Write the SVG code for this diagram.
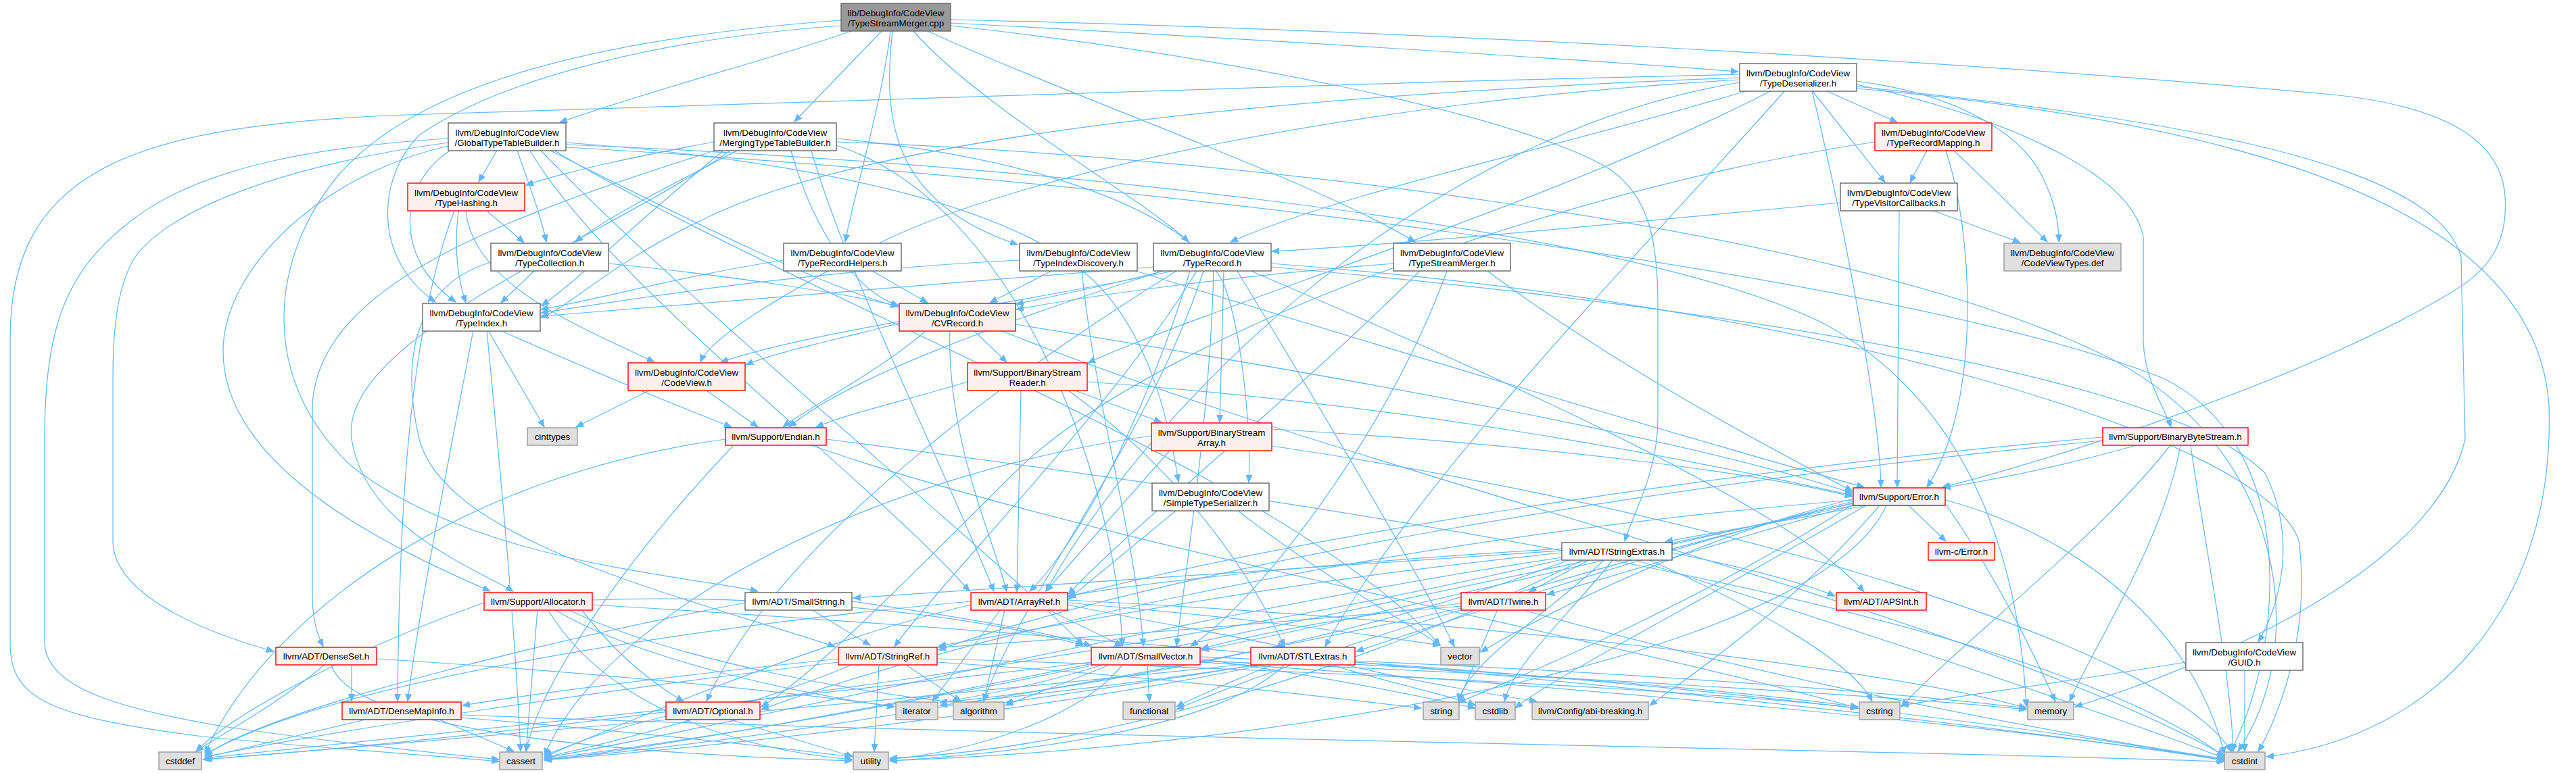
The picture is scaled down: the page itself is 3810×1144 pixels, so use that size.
<svg xmlns="http://www.w3.org/2000/svg" width="3810" height="1144" viewBox="0 0 3810 1144">
<style>
.e{fill:none;stroke:#63b8ff;stroke-width:1.25;marker-end:url(#a)}
.w{fill:#ffffff;stroke:#666666;stroke-width:1.4}
.r{fill:#fff0f0;stroke:#ff0000;stroke-width:1.4}
.g{fill:#e0e0e0;stroke:#999999;stroke-width:1.4}
.k{fill:#999999;stroke:#666666;stroke-width:1.4}
text{font-family:"Liberation Sans",Arial,Helvetica,sans-serif;font-size:13.33px;fill:#000000;text-anchor:middle}
</style>
<defs>
<marker id="a" viewBox="0 0 12 10" refX="11" refY="5" markerWidth="12" markerHeight="10" markerUnits="userSpaceOnUse" orient="auto"><path d="M0,0.5 L11,5 L0,9.5 z" fill="#63b8ff" stroke="#63b8ff"/></marker>
</defs>
<rect x="0" y="0" width="3810" height="1144" fill="#ffffff"/>
<g id="edges">
<path class="e" d="M1259,46 C1150,85 990,125 828,181"/>
<path class="e" d="M1304,46 L1175,180"/>
<path class="e" d="M1317,46 C1305,150 1265,280 1250,358"/>
<path class="e" d="M1320,46 C1305,180 1320,300 1505,362"/>
<path class="e" d="M1351,46 C1450,160 1700,300 1758,358"/>
<path class="e" d="M1372,46 C1600,150 1950,270 2093,358"/>
<path class="e" d="M1406,34 C1800,55 2300,85 2571,106"/>
<path class="e" d="M1406,38 C1800,80 2250,170 2380,250 C2440,290 2452,360 2452,450 L2452,620 C2452,700 2415,760 2403,801"/>
<path class="e" d="M1406,29 C2100,45 2900,90 3450,140 C3640,160 3700,220 3705,290 C3710,360 3680,400 3630,430 C3400,570 3000,690 2873,721"/>
<path class="e" d="M1244,38 C1000,55 750,110 620,200 C560,260 548,380 644,447"/>
<path class="e" d="M1244,30 C900,55 620,120 500,260 C400,380 380,560 520,690 C700,830 1000,850 1121,875"/>
<path class="e" d="M735,223 L708,269"/>
<path class="e" d="M765,223 C785,280 800,320 808,358"/>
<path class="e" d="M667,222 C590,270 580,380 674,447"/>
<path class="e" d="M663,205 C500,215 300,240 190,330 C100,400 66,480 66,650 L66,950 C66,1010 150,1045 330,1075 C500,1100 650,1115 738,1124"/>
<path class="e" d="M663,211 C450,240 260,300 200,380 C175,420 167,480 167,560 L167,800 C167,880 300,935 405,964"/>
<path class="e" d="M663,216 C470,260 330,400 330,520 C330,700 600,820 725,875"/>
<path class="e" d="M814,223 C950,290 1200,420 1328,454"/>
<path class="e" d="M837,211 C1100,230 1450,280 1600,400 C1700,480 1730,630 1743,713"/>
<path class="e" d="M784,223 C900,420 1300,720 1434,875"/>
<path class="e" d="M800,223 C1050,480 1450,800 1602,955"/>
<path class="e" d="M837,214 C1500,240 2400,330 2700,480 C2950,620 2990,900 2997,1046"/>
<path class="e" d="M837,218 C1600,260 2800,400 3200,560 C3400,660 3380,950 3300,1112"/>
<path class="e" d="M820,223 C1200,450 1900,700 2130,955"/>
<path class="e" d="M1056,210 C950,230 850,250 778,274"/>
<path class="e" d="M1090,223 C1000,270 900,320 851,358"/>
<path class="e" d="M1070,223 C950,320 850,420 801,452"/>
<path class="e" d="M1170,223 C1200,330 1260,430 1329,452"/>
<path class="e" d="M1237,205 C1500,230 1750,300 1810,420 C1840,500 1850,650 1847,714"/>
<path class="e" d="M1200,223 C1250,400 1400,700 1470,875"/>
<path class="e" d="M1237,215 C1500,300 1650,700 1660,956"/>
<path class="e" d="M1080,223 C900,350 500,500 520,650 C540,780 700,840 759,875"/>
<path class="e" d="M1237,210 C1800,230 2700,330 3100,520 C3380,650 3420,950 3310,1112"/>
<path class="e" d="M1060,222 C750,320 470,420 462,600 L462,880 C462,920 470,940 478,957"/>
<path class="e" d="M2700,134 L2806,181"/>
<path class="e" d="M2680,134 L2788,270"/>
<path class="e" d="M2746,120 C2900,140 2990,200 3020,260 C3040,300 3045,330 3045,358"/>
<path class="e" d="M2585,134 C2300,220 2000,280 1820,358"/>
<path class="e" d="M2573,115 C1900,140 1300,200 1050,320 C900,390 850,450 800,470"/>
<path class="e" d="M2573,118 C2000,150 1500,260 1300,360 C1150,440 1050,500 1036,536"/>
<path class="e" d="M2573,122 C2100,200 1700,600 1547,875"/>
<path class="e" d="M2640,134 C2450,350 2100,700 1960,957"/>
<path class="e" d="M2620,134 C2300,300 1800,450 1609,537"/>
<path class="e" d="M2680,134 C2720,300 2780,600 2782,721"/>
<path class="e" d="M2746,125 C2950,170 3150,250 3170,350 L3170,500 C3170,560 3200,600 3211,632"/>
<path class="e" d="M2746,128 C3150,170 3600,230 3640,380 L3646,650 C3600,850 3250,990 3069,1046"/>
<path class="e" d="M2746,131 C3300,180 3750,300 3770,600 C3780,900 3600,1090 3352,1120"/>
<path class="e" d="M2573,110 C1900,125 1200,150 600,170 C200,185 15,250 15,500 L15,950 C15,1030 60,1060 300,1090 C500,1110 650,1118 738,1127"/>
<path class="e" d="M2850,223 L2825,270"/>
<path class="e" d="M2890,223 C2950,280 3000,330 3028,358"/>
<path class="e" d="M2878,223 C2920,350 2930,600 2850,721"/>
<path class="e" d="M2773,210 C2300,280 1700,500 1500,700 C1300,900 1200,1000 1126,1046"/>
<path class="e" d="M2722,300 C2400,330 2100,360 1881,372"/>
<path class="e" d="M2809,312 L2806,721"/>
<path class="e" d="M2860,312 L2988,359"/>
<path class="e" d="M720,312 L775,359"/>
<path class="e" d="M678,312 C670,380 680,420 689,448"/>
<path class="e" d="M672,312 C600,500 590,800 588,1038"/>
<path class="e" d="M689,312 C700,420 850,480 968,536"/>
<path class="e" d="M790,401 L741,448"/>
<path class="e" d="M900,390 C1100,410 1250,435 1329,453"/>
<path class="e" d="M726,388 C620,420 590,520 620,650 C660,800 1000,880 1235,957"/>
<path class="e" d="M700,489 C660,700 620,900 603,1038"/>
<path class="e" d="M740,489 C900,560 1000,600 1082,632"/>
<path class="e" d="M720,489 C740,700 760,900 770,1112"/>
<path class="e" d="M722,489 L805,632"/>
<path class="e" d="M1159,385 C1000,410 900,440 800,458"/>
<path class="e" d="M1290,401 L1372,448"/>
<path class="e" d="M1508,385 C1200,400 950,440 800,463"/>
<path class="e" d="M1555,401 L1464,448"/>
<path class="e" d="M1600,401 C1620,600 1680,800 1691,956"/>
<path class="e" d="M1680,401 C2000,500 2500,650 2757,721"/>
<path class="e" d="M1720,401 C1650,420 1550,440 1503,450"/>
<path class="e" d="M1706,395 C1400,420 1000,450 800,468"/>
<path class="e" d="M1735,401 C1500,450 1200,490 1066,536"/>
<path class="e" d="M1850,401 C2200,550 2650,750 2757,876"/>
<path class="e" d="M1760,401 C1700,600 1600,800 1523,875"/>
<path class="e" d="M1740,401 C1500,550 1150,800 1045,1038"/>
<path class="e" d="M1795,401 C1790,600 1760,800 1740,956"/>
<path class="e" d="M1770,401 C1650,600 1400,850 1323,957"/>
<path class="e" d="M1880,395 C2500,450 3200,550 3350,700 C3400,800 3370,900 3340,950"/>
<path class="e" d="M1810,401 L1804,625"/>
<path class="e" d="M1720,401 C1500,470 1250,560 1167,632"/>
<path class="e" d="M1780,401 C1700,650 1500,900 1455,1038"/>
<path class="e" d="M1880,390 C2700,450 3350,650 3400,800 C3420,950 3360,1080 3340,1112"/>
<path class="e" d="M1830,401 C1950,600 2100,850 2151,957"/>
<path class="e" d="M2100,401 C1900,600 1650,800 1580,880"/>
<path class="e" d="M2140,401 C2050,650 1850,900 1761,956"/>
<path class="e" d="M2061,390 C1800,410 1600,440 1503,458"/>
<path class="e" d="M2200,401 C2400,550 2650,680 2740,727"/>
<path class="e" d="M1405,489 C1400,650 1470,800 1489,876"/>
<path class="e" d="M1330,478 C1250,500 1150,520 1103,540"/>
<path class="e" d="M1440,489 L1489,536"/>
<path class="e" d="M1370,489 C1300,550 1200,600 1158,632"/>
<path class="e" d="M1502,480 C2000,560 2500,650 2740,730"/>
<path class="e" d="M1480,489 C2000,700 2900,900 3290,1118"/>
<path class="e" d="M960,578 L852,632"/>
<path class="e" d="M1045,578 L1121,632"/>
<path class="e" d="M1510,578 L1504,876"/>
<path class="e" d="M1580,578 C1750,700 1850,850 1900,957"/>
<path class="e" d="M1590,578 L1718,625"/>
<path class="e" d="M1431,565 C1350,590 1260,610 1207,632"/>
<path class="e" d="M1608,565 C2100,600 2500,680 2740,733"/>
<path class="e" d="M1085,659 C950,800 800,1000 778,1112"/>
<path class="e" d="M1073,650 C700,700 400,900 303,1115"/>
<path class="e" d="M1222,650 C2000,750 3000,900 3290,1120"/>
<path class="e" d="M1200,659 C1600,800 2400,950 2748,1048"/>
<path class="e" d="M1730,667 L1547,875"/>
<path class="e" d="M1881,635 C2300,660 2600,700 2740,735"/>
<path class="e" d="M1703,645 C1300,700 900,900 805,1118"/>
<path class="e" d="M1881,660 C2500,750 3200,950 3300,1112"/>
<path class="e" d="M1740,755 L1580,887"/>
<path class="e" d="M1830,755 C1950,850 2080,920 2130,955"/>
<path class="e" d="M3110,647 C2500,700 1900,800 1580,883"/>
<path class="e" d="M3110,652 C2400,720 1700,850 1388,962"/>
<path class="e" d="M3160,659 C3050,690 2950,710 2874,722"/>
<path class="e" d="M3210,659 C3100,800 2900,950 2812,1046"/>
<path class="e" d="M3225,659 C3200,800 3100,950 3061,1038"/>
<path class="e" d="M3240,659 C3260,800 3300,1000 3303,1112"/>
<path class="e" d="M2823,748 L2878,801"/>
<path class="e" d="M2741,742 C2500,800 2200,900 2006,964"/>
<path class="e" d="M2741,745 C2400,820 2000,920 1777,962"/>
<path class="e" d="M2760,748 C2650,770 2520,790 2463,802"/>
<path class="e" d="M2741,748 C2550,800 2400,850 2288,880"/>
<path class="e" d="M2780,748 C2650,900 2500,1000 2440,1044"/>
<path class="e" d="M2741,748 C2000,900 1200,1080 805,1125"/>
<path class="e" d="M2877,740 C3100,800 3250,950 3290,1116"/>
<path class="e" d="M2760,748 C2500,900 2300,1000 2241,1048"/>
<path class="e" d="M2741,744 C2300,850 1900,980 1740,1050"/>
<path class="e" d="M2877,745 C2950,850 3000,950 3040,1038"/>
<path class="e" d="M2741,740 C2000,800 1400,950 1126,1050"/>
<path class="e" d="M2741,746 C2500,900 2250,1000 2157,1040"/>
<path class="e" d="M2790,748 C2700,950 2000,1100 1316,1126"/>
<path class="e" d="M2741,738 C2500,800 2300,900 2190,965"/>
<path class="e" d="M2473,818 C2580,840 2660,860 2714,882"/>
<path class="e" d="M2310,812 C2000,830 1700,860 1580,882"/>
<path class="e" d="M2310,815 C1900,840 1500,870 1262,885"/>
<path class="e" d="M2310,818 C1900,860 1600,920 1388,956"/>
<path class="e" d="M2350,829 L2261,876"/>
<path class="e" d="M2310,825 C1800,900 1200,1050 805,1122"/>
<path class="e" d="M2310,828 C1800,950 900,1080 300,1124"/>
<path class="e" d="M2420,829 C2800,950 3100,1050 3290,1122"/>
<path class="e" d="M2385,829 C2330,900 2240,980 2225,1038"/>
<path class="e" d="M2440,829 C2600,900 2740,980 2769,1038"/>
<path class="e" d="M2320,829 C2000,950 1600,1020 1390,1040"/>
<path class="e" d="M2372,829 C2300,900 2170,980 2157,1038"/>
<path class="e" d="M2340,829 C2000,1000 1600,1110 1316,1122"/>
<path class="e" d="M860,902 C920,980 980,1020 1011,1038"/>
<path class="e" d="M876,888 C1100,880 1400,900 1602,955"/>
<path class="e" d="M840,902 C1000,980 1300,1030 1421,1040"/>
<path class="e" d="M795,902 L778,1112"/>
<path class="e" d="M716,892 C550,950 350,1050 290,1112"/>
<path class="e" d="M876,895 C1800,950 2800,1050 3290,1125"/>
<path class="e" d="M820,902 C950,980 1200,1030 1323,1046"/>
<path class="e" d="M810,902 C900,1050 1100,1110 1260,1124"/>
<path class="e" d="M1260,890 C1400,910 1550,935 1614,956"/>
<path class="e" d="M1200,902 L1287,955"/>
<path class="e" d="M1102,892 C800,950 400,1050 303,1118"/>
<path class="e" d="M1550,902 L1660,956"/>
<path class="e" d="M1579,895 C1700,920 1850,945 1900,958"/>
<path class="e" d="M1486,902 L1455,1038"/>
<path class="e" d="M1436,895 C1200,950 900,1080 805,1120"/>
<path class="e" d="M1436,890 C1100,920 500,1000 303,1117"/>
<path class="e" d="M1480,902 L1379,1038"/>
<path class="e" d="M1579,888 C2200,920 2800,990 2997,1048"/>
<path class="e" d="M1579,892 C1800,910 2000,935 2130,955"/>
<path class="e" d="M2161,893 C2000,910 1850,940 1777,960"/>
<path class="e" d="M2161,897 C1900,920 1600,945 1388,958"/>
<path class="e" d="M2161,900 C1800,980 1200,1090 805,1124"/>
<path class="e" d="M2250,902 C2600,1000 3000,1080 3290,1123"/>
<path class="e" d="M2215,902 L2157,1038"/>
<path class="e" d="M520,984 L520,1038"/>
<path class="e" d="M480,984 C400,1050 320,1090 290,1112"/>
<path class="e" d="M557,975 C800,990 1150,1020 1323,1046"/>
<path class="e" d="M490,984 C520,1080 900,1115 1260,1126"/>
<path class="e" d="M1240,975 C1000,1000 800,1025 684,1044"/>
<path class="e" d="M1340,984 L1421,1038"/>
<path class="e" d="M1260,984 C1100,1050 900,1100 805,1121"/>
<path class="e" d="M1240,980 C900,1020 500,1080 303,1120"/>
<path class="e" d="M1386,975 C1900,990 2500,1020 2748,1048"/>
<path class="e" d="M1386,980 C1700,1000 1950,1030 2102,1048"/>
<path class="e" d="M1300,984 L1293,1112"/>
<path class="e" d="M1640,984 C1580,1010 1520,1030 1487,1044"/>
<path class="e" d="M1620,984 C1300,1050 1000,1100 805,1123"/>
<path class="e" d="M1614,980 C1200,1030 600,1090 303,1122"/>
<path class="e" d="M1775,980 C2400,1020 3000,1080 3290,1124"/>
<path class="e" d="M1775,975 C1950,1000 2100,1030 2182,1048"/>
<path class="e" d="M1775,972 C2200,990 2550,1020 2748,1046"/>
<path class="e" d="M1697,984 L1700,1038"/>
<path class="e" d="M1630,984 C1550,1010 1450,1030 1390,1040"/>
<path class="e" d="M1775,978 C2300,1000 2800,1030 2997,1050"/>
<path class="e" d="M1660,984 C1600,1060 1450,1110 1316,1124"/>
<path class="e" d="M1990,984 C2100,1010 2220,1030 2273,1038"/>
<path class="e" d="M1860,984 C1700,1010 1550,1030 1487,1040"/>
<path class="e" d="M1870,984 C1500,1060 1000,1110 805,1125"/>
<path class="e" d="M1850,982 C1300,1040 600,1100 303,1124"/>
<path class="e" d="M2004,980 C2600,1020 3100,1090 3290,1126"/>
<path class="e" d="M1970,984 C2050,1010 2150,1030 2182,1044"/>
<path class="e" d="M1880,984 C1820,1010 1770,1030 1740,1046"/>
<path class="e" d="M1855,984 C1700,1010 1500,1030 1390,1044"/>
<path class="e" d="M2004,978 C2500,1000 2850,1030 2997,1048"/>
<path class="e" d="M1900,984 C1800,1080 1500,1115 1316,1126"/>
<path class="e" d="M3320,991 L3320,1112"/>
<path class="e" d="M3233,980 C3050,1010 2900,1030 2812,1044"/>
<path class="e" d="M650,1065 L760,1112"/>
<path class="e" d="M540,1065 L303,1121"/>
<path class="e" d="M682,1058 C1500,1090 2800,1110 3290,1127"/>
<path class="e" d="M682,1062 C900,1080 1100,1100 1260,1120"/>
<path class="e" d="M985,1060 C900,1080 850,1100 805,1118"/>
<path class="e" d="M1080,1065 L1262,1120"/>
</g>
<g id="n0"><rect class="k" x="1244" y="5" width="162" height="41"/><text x="1325" y="23.5">lib/DebugInfo/CodeView</text><text x="1325" y="38.5">/TypeStreamMerger.cpp</text></g>
<g id="n1"><rect class="w" x="663" y="182" width="174" height="41"/><text x="750" y="200.5">llvm/DebugInfo/CodeView</text><text x="750" y="215.5">/GlobalTypeTableBuilder.h</text></g>
<g id="n2"><rect class="w" x="1056" y="182" width="181" height="41"/><text x="1146.5" y="200.5">llvm/DebugInfo/CodeView</text><text x="1146.5" y="215.5">/MergingTypeTableBuilder.h</text></g>
<g id="n3"><rect class="w" x="2573" y="94" width="173" height="41"/><text x="2659.5" y="112.5">llvm/DebugInfo/CodeView</text><text x="2659.5" y="127.5">/TypeDeserializer.h</text></g>
<g id="n4"><rect class="r" x="2773" y="182" width="173" height="41"/><text x="2859.5" y="200.5">llvm/DebugInfo/CodeView</text><text x="2859.5" y="215.5">/TypeRecordMapping.h</text></g>
<g id="n5"><rect class="w" x="2722" y="271" width="173" height="41"/><text x="2808.5" y="289.5">llvm/DebugInfo/CodeView</text><text x="2808.5" y="304.5">/TypeVisitorCallbacks.h</text></g>
<g id="n6"><rect class="g" x="2964" y="360" width="173" height="41"/><text x="3050.5" y="378.5">llvm/DebugInfo/CodeView</text><text x="3050.5" y="393.5">/CodeViewTypes.def</text></g>
<g id="n7"><rect class="r" x="603" y="271" width="173" height="41"/><text x="689.5" y="289.5">llvm/DebugInfo/CodeView</text><text x="689.5" y="304.5">/TypeHashing.h</text></g>
<g id="n8"><rect class="w" x="726" y="360" width="174" height="41"/><text x="813" y="378.5">llvm/DebugInfo/CodeView</text><text x="813" y="393.5">/TypeCollection.h</text></g>
<g id="n9"><rect class="w" x="625" y="449" width="174" height="41"/><text x="712" y="467.5">llvm/DebugInfo/CodeView</text><text x="712" y="482.5">/TypeIndex.h</text></g>
<g id="n10"><rect class="w" x="1159" y="360" width="174" height="41"/><text x="1246" y="378.5">llvm/DebugInfo/CodeView</text><text x="1246" y="393.5">/TypeRecordHelpers.h</text></g>
<g id="n11"><rect class="w" x="1508" y="360" width="174" height="41"/><text x="1595" y="378.5">llvm/DebugInfo/CodeView</text><text x="1595" y="393.5">/TypeIndexDiscovery.h</text></g>
<g id="n12"><rect class="w" x="1706" y="360" width="174" height="41"/><text x="1793" y="378.5">llvm/DebugInfo/CodeView</text><text x="1793" y="393.5">/TypeRecord.h</text></g>
<g id="n13"><rect class="w" x="2061" y="360" width="173" height="41"/><text x="2147.5" y="378.5">llvm/DebugInfo/CodeView</text><text x="2147.5" y="393.5">/TypeStreamMerger.h</text></g>
<g id="n14"><rect class="r" x="1330" y="449" width="172" height="41"/><text x="1416" y="467.5">llvm/DebugInfo/CodeView</text><text x="1416" y="482.5">/CVRecord.h</text></g>
<g id="n15"><rect class="r" x="929" y="537" width="173" height="41"/><text x="1015.5" y="555.5">llvm/DebugInfo/CodeView</text><text x="1015.5" y="570.5">/CodeView.h</text></g>
<g id="n16"><rect class="r" x="1431" y="537" width="177" height="41"/><text x="1519.5" y="555.5">llvm/Support/BinaryStream</text><text x="1519.5" y="570.5">Reader.h</text></g>
<g id="n17"><rect class="g" x="780" y="633" width="74" height="26"/><text x="817" y="650.7">cinttypes</text></g>
<g id="n18"><rect class="r" x="1073" y="633" width="149" height="26"/><text x="1147.5" y="650.7">llvm/Support/Endian.h</text></g>
<g id="n19"><rect class="r" x="1703" y="626" width="178" height="41"/><text x="1792" y="644.5">llvm/Support/BinaryStream</text><text x="1792" y="659.5">Array.h</text></g>
<g id="n20"><rect class="w" x="1704" y="715" width="173" height="41"/><text x="1790.5" y="733.5">llvm/DebugInfo/CodeView</text><text x="1790.5" y="748.5">/SimpleTypeSerializer.h</text></g>
<g id="n21"><rect class="r" x="3110" y="633" width="215" height="26"/><text x="3217.5" y="650.7">llvm/Support/BinaryByteStream.h</text></g>
<g id="n22"><rect class="r" x="2741" y="722" width="136" height="26"/><text x="2809" y="739.7">llvm/Support/Error.h</text></g>
<g id="n23"><rect class="r" x="2852" y="803" width="98" height="26"/><text x="2901" y="820.7">llvm-c/Error.h</text></g>
<g id="n24"><rect class="w" x="2310" y="803" width="163" height="26"/><text x="2391.5" y="820.7">llvm/ADT/StringExtras.h</text></g>
<g id="n25"><rect class="r" x="716" y="877" width="160" height="26"/><text x="796" y="894.7">llvm/Support/Allocator.h</text></g>
<g id="n26"><rect class="w" x="1102" y="877" width="158" height="26"/><text x="1181" y="894.7">llvm/ADT/SmallString.h</text></g>
<g id="n27"><rect class="r" x="1436" y="877" width="143" height="26"/><text x="1507.5" y="894.7">llvm/ADT/ArrayRef.h</text></g>
<g id="n28"><rect class="r" x="2161" y="877" width="125" height="26"/><text x="2223.5" y="894.7">llvm/ADT/Twine.h</text></g>
<g id="n29"><rect class="r" x="2716" y="877" width="133" height="26"/><text x="2782.5" y="894.7">llvm/ADT/APSInt.h</text></g>
<g id="n30"><rect class="r" x="408" y="958" width="149" height="26"/><text x="482.5" y="975.7">llvm/ADT/DenseSet.h</text></g>
<g id="n31"><rect class="r" x="1240" y="958" width="146" height="26"/><text x="1313" y="975.7">llvm/ADT/StringRef.h</text></g>
<g id="n32"><rect class="r" x="1614" y="958" width="161" height="26"/><text x="1694.5" y="975.7">llvm/ADT/SmallVector.h</text></g>
<g id="n33"><rect class="r" x="1850" y="958" width="154" height="26"/><text x="1927" y="975.7">llvm/ADT/STLExtras.h</text></g>
<g id="n34"><rect class="g" x="2131" y="958" width="57" height="26"/><text x="2159.5" y="975.7">vector</text></g>
<g id="n35"><rect class="w" x="3233" y="951" width="173" height="41"/><text x="3319.5" y="969.5">llvm/DebugInfo/CodeView</text><text x="3319.5" y="984.5">/GUID.h</text></g>
<g id="n36"><rect class="r" x="506" y="1039" width="176" height="26"/><text x="594" y="1056.7">llvm/ADT/DenseMapInfo.h</text></g>
<g id="n37"><rect class="r" x="985" y="1039" width="139" height="26"/><text x="1054.5" y="1056.7">llvm/ADT/Optional.h</text></g>
<g id="n38"><rect class="g" x="1325" y="1039" width="62" height="26"/><text x="1356" y="1056.7">iterator</text></g>
<g id="n39"><rect class="g" x="1410" y="1039" width="75" height="26"/><text x="1447.5" y="1056.7">algorithm</text></g>
<g id="n40"><rect class="g" x="1661" y="1039" width="77" height="26"/><text x="1699.5" y="1056.7">functional</text></g>
<g id="n41"><rect class="g" x="2105" y="1039" width="53" height="26"/><text x="2131.5" y="1056.7">string</text></g>
<g id="n42"><rect class="g" x="2182" y="1039" width="59" height="26"/><text x="2211.5" y="1056.7">cstdlib</text></g>
<g id="n43"><rect class="g" x="2266" y="1039" width="172" height="26"/><text x="2352" y="1056.7">llvm/Config/abi-breaking.h</text></g>
<g id="n44"><rect class="g" x="2750" y="1039" width="60" height="26"/><text x="2780" y="1056.7">cstring</text></g>
<g id="n45"><rect class="g" x="2999" y="1039" width="68" height="26"/><text x="3033" y="1056.7">memory</text></g>
<g id="n46"><rect class="g" x="235" y="1113" width="63" height="26"/><text x="266.5" y="1130.7">cstddef</text></g>
<g id="n47"><rect class="g" x="739" y="1113" width="63" height="26"/><text x="770.5" y="1130.7">cassert</text></g>
<g id="n48"><rect class="g" x="1262" y="1113" width="52" height="26"/><text x="1288" y="1130.7">utility</text></g>
<g id="n49"><rect class="g" x="3290" y="1113" width="60" height="26"/><text x="3320" y="1130.7">cstdint</text></g>
</svg>
